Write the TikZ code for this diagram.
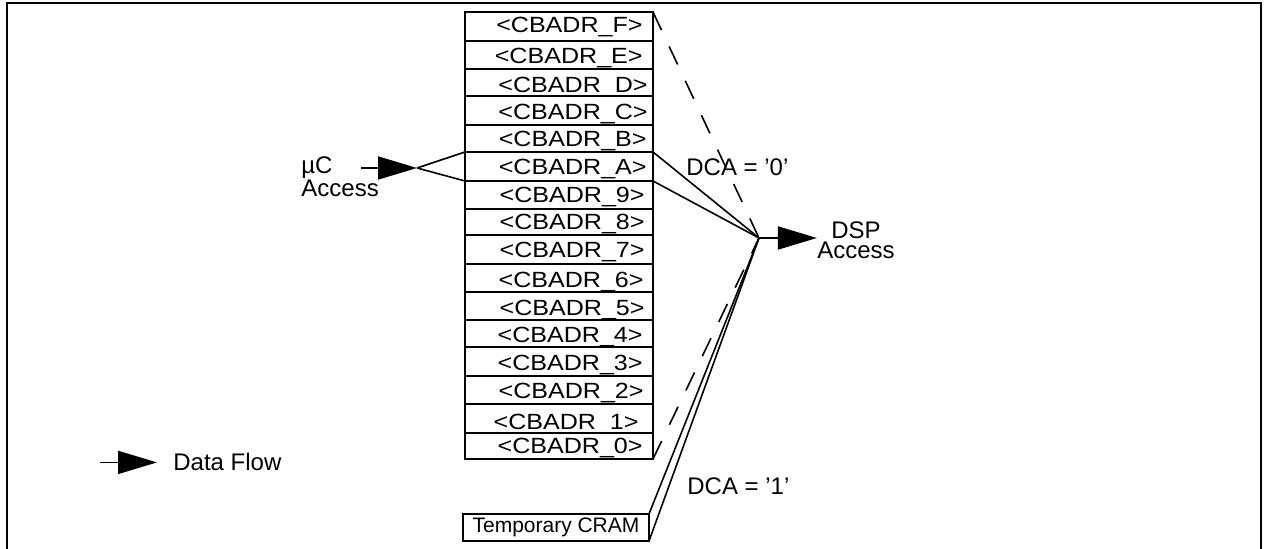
\documentclass[tikz,border=0pt]{standalone}
\usepackage{fontspec}
\setmainfont{Liberation Sans}
\usetikzlibrary{arrows.meta}

\begin{document}
\begin{tikzpicture}[x=0.5pt, y=-0.5pt, >={Triangle[length=19.5pt,width=11.5pt]},
  frame/.style={line width=1pt},
  regrow/.style={draw, line width=1pt, minimum width=94pt, inner sep=0pt, outer sep=0pt},
  reglbl/.style={inner sep=0pt, font=\fontsize{11}{11}\selectfont},
  lbl/.style={inner sep=0pt, font=\fontsize{12}{10}\selectfont},
  flow/.style={->, line width=0.9pt},
  link/.style={line width=0.8pt},
  ctrl/.style={line width=0.8pt, dash pattern=on 10pt off 9pt}]

  \useasboundingbox (0,0) rectangle (1264,549);

  % Parameters
  \def\xReg{559}     % centre of the register column
  \def\sx{1.14}      % horizontal stretch of the register labels

  % ---- Page frame (open at the bottom) ----
  \draw[frame] (6.5,549) -- (6.5,3) -- (1261,3) -- (1261,549);

  % ---- Register column: name/top/bottom/baseline/end of text ----
  \foreach \n/\t/\b/\base/\rx in {F/12/41/33/643, E/41/69/64/643, D/69/96/93/648,
      C/96/125/120/648, B/125/152/147/647, A/152/181/175/647, 9/181/209/203/645,
      8/209/235/230/645, 7/235/264/258/645, 6/264/292/288/644, 5/292/320/316/645,
      4/320/347/343/643, 3/347/376/371/643, 2/376/404/399/644, 1/404/433/430/639,
      0/433/459/454/643}{
    \pgfmathsetmacro{\h}{(\b-\t)*0.5}
    \node[regrow, minimum height=\h pt] (row-\n) at (\xReg,{(\t+\b)/2}) {};
    \node[reglbl, anchor=base east] (lbl-\n) at (\rx,\base) {\scalebox{\sx}[1]{<CBADR\_\n>}};
  }

  % ---- Temporary CRAM ----
  \node[regrow, minimum width=93pt, minimum height=13.5pt,
        font=\fontsize{10.5}{10.5}\selectfont] (cram) at (556,527.5) {Temporary CRAM};

  % Junction in front of the DSP
  \coordinate (junc) at (759,238);

  % ---- uC access ----
  \node[lbl, align=left, anchor=base west] (uc) at (301,197) {µC\\Access};
  \coordinate (uc-start) at (361,168);
  \coordinate (uc-tip) at (417,168);
  \draw[flow] (uc-start) -- (uc-tip);
  \draw[link] (uc-tip) -- (row-A.north west);
  \draw[link] (uc-tip) -- (row-A.south west);

  % ---- DSP access ----
  \node[lbl, align=center, anchor=base] (dsp) at (856,259) {DSP\\Access};
  \draw[flow] (junc) -- (junc -| dsp.west);

  % DCA = '0' : register window
  \draw[link] (row-A.north east) -- (junc);
  \draw[link] (row-A.south east) -- (junc);
  \draw[ctrl] (row-F.north east) -- (junc);
  \draw[ctrl] (row-0.south east) -- (junc);
  \node[lbl, anchor=base west] (dca0) at (686,176) {DCA = ’0’};

  % DCA = '1' : temporary CRAM
  \draw[link] (cram.north east) -- (junc);
  \draw[link] (cram.south east) -- (junc);
  \node[lbl, anchor=base west] (dca1) at (687,495) {DCA = ’1’};

  % ---- Legend ----
  \node[lbl, anchor=base west] (legend) at (173,471) {Data Flow};
  \draw[flow] ([xshift=-36.5pt]legend.west) -- ([xshift=-8pt]legend.west);

\end{tikzpicture}
\end{document}
